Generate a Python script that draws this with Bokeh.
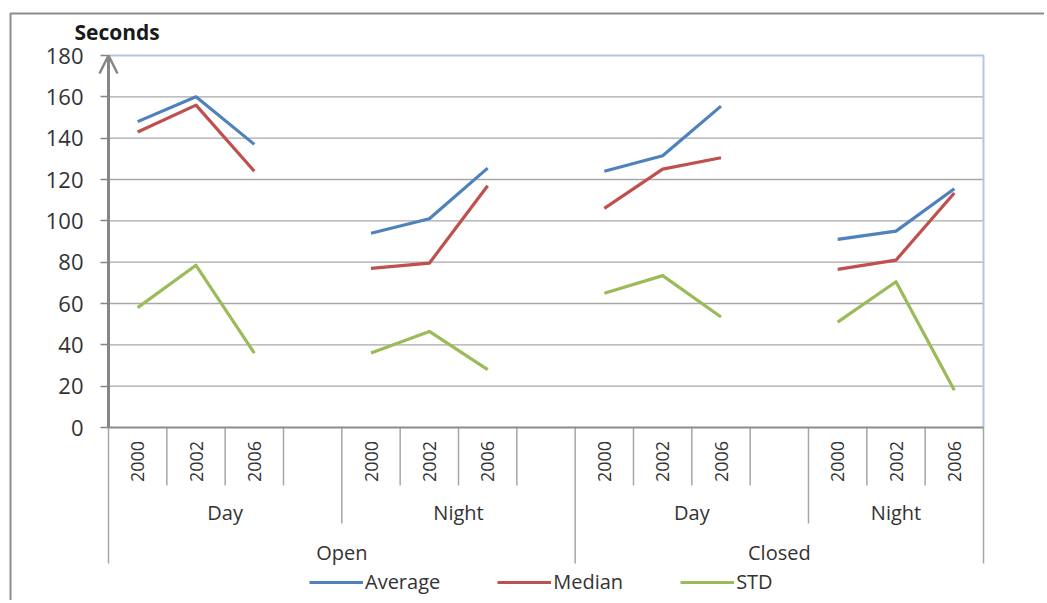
from math import pi
from bokeh.plotting import figure
from bokeh.models import (Range1d, LinearAxis, FixedTicker, Legend, LegendItem,
                          Arrow, OpenHead)
from bokeh.core.properties import value
from bokeh.embed import file_html
from bokeh.resources import INLINE

# ---------------- data ----------------
groups = ["Open", "Closed"]
subgroups = ["Day", "Night"]
years = ["2000", "2002", "2006"]
series_names = ["Average", "Median", "STD"]
# values per (group, subgroup) block, in order: Open-Day, Open-Night, Closed-Day, Closed-Night
average = [148, 160, 137, 94, 101, 125.5, 124, 131.5, 155.5, 91, 95, 115.5]
median = [143, 156, 124, 77, 79.5, 117, 106, 125, 130.5, 76.5, 81, 113.5]
std_dev = [58, 78.5, 36, 36, 46.5, 28, 65, 73.5, 53.5, 51, 70.5, 18]
y_ticks = [0, 20, 40, 60, 80, 100, 120, 140, 160, 180]
y_title = "Seconds"

# ---------------- layout constants ----------------
W, H = 1044, 600
ORIGIN = 0
FONT = "Open Sans"
colors = ["#4F81BD", "#C0504D", "#9BBB59"]

# slots on the category axis (blank slot after each subgroup except the last)
slots = []
for gi, g in enumerate(groups):
    for si, s in enumerate(subgroups):
        for yr in years:
            slots.append((g, s, yr))
        if not (gi == len(groups) - 1 and si == len(subgroups) - 1):
            slots.append((g, s, None))
n_slots = len(slots)

# page-pixel anchors of the plot area
PX_L, PX_R = 108, 983
PY_0, PY_TOP = 427, 55
ux = (PX_R - PX_L) / n_slots
uy = (PY_0 - PY_TOP) / y_ticks[-1]


def dx(px):
    return (px - PX_L) / ux


def dy(py):
    return (PY_0 - py) / uy


p = figure(width=W, height=H, output_backend="svg", toolbar_location=None,
           x_axis_location=None, y_axis_location=None,
           x_range=Range1d(dx(ORIGIN), dx(ORIGIN + W)),
           y_range=Range1d(dy(ORIGIN + H), dy(ORIGIN)),
           min_border=0, min_border_left=0, min_border_right=0,
           min_border_top=0, min_border_bottom=0)
p.outline_line_color = None
p.background_fill_color = "white"
p.border_fill_color = "white"
p.grid.visible = False

ymax = y_ticks[-1]

# outer chart border (top and left)
p.line(x=[dx(10), dx(10), dx(1100)], y=[dy(700), dy(13), dy(13)],
       line_color="#8c8c8c", line_width=2)

# horizontal gridlines
grid_vals = [t for t in y_ticks if 0 < t < ymax]
p.segment(x0=[0] * len(grid_vals), x1=[n_slots] * len(grid_vals),
          y0=grid_vals, y1=grid_vals, line_color="#a8a8a8", line_width=1.3)

# plot-area border (top & right)
p.line(x=[0, n_slots, n_slots], y=[ymax, ymax, 0], line_color="#b3c7e2", line_width=2)

# category separators
sep_x, sep_y1 = [], []
for i in range(n_slots + 1):
    if i == 0 or i == n_slots or slots[i - 1][0] != slots[i][0]:
        level = 2
    elif slots[i - 1][1] != slots[i][1]:
        level = 1
    else:
        level = 0
    sep_x.append(i)
    sep_y1.append([dy(485), dy(523), dy(563)][level])
p.segment(x0=sep_x, x1=sep_x, y0=[0] * len(sep_x), y1=sep_y1,
          line_color="#a6a6a6", line_width=1.5)

# x axis line
p.line(x=[0, n_slots], y=[0, 0], line_color="#8c8c8c", line_width=2)

# year labels (rotated)
yl_x = [i + 0.5 for i, s in enumerate(slots) if s[2] is not None]
yl_t = [s[2] for s in slots if s[2] is not None]
p.text(x=yl_x, y=[dy(461)] * len(yl_x), text=yl_t, angle=pi / 2,
       text_align="center", text_baseline="middle",
       text_font=value(FONT), text_font_size=value("18px"), text_color="#333333")

# subgroup labels
sg_x, sg_t = [], []
for g in groups:
    for s in subgroups:
        idx = [i for i, sl in enumerate(slots) if sl[0] == g and sl[1] == s]
        sg_x.append((idx[0] + idx[-1] + 1) / 2)
        sg_t.append(s)
p.text(x=sg_x, y=[dy(512)] * len(sg_x), text=sg_t,
       text_align="center", text_baseline="middle",
       text_font=value(FONT), text_font_size=value("20px"), text_color="#333333")

# group labels
g_x = []
for g in groups:
    idx = [i for i, sl in enumerate(slots) if sl[0] == g]
    g_x.append((idx[0] + idx[-1] + 1) / 2)
p.text(x=g_x, y=[dy(552)] * len(g_x), text=groups,
       text_align="center", text_baseline="middle",
       text_font=value(FONT), text_font_size=value("20px"), text_color="#333333")

# y title
p.text(x=[dx(74)], y=[dy(31)], text=[y_title], text_align="left", text_baseline="middle",
       text_font=value(FONT), text_font_size=value("21px"), text_font_style="bold",
       text_color="#1a1a1a")

# y axis
yaxis = LinearAxis(fixed_location=0, bounds=(0, ymax), ticker=FixedTicker(ticks=y_ticks))
yaxis.axis_line_color = "#868686"
yaxis.axis_line_width = 3
yaxis.major_tick_out = 8
yaxis.major_tick_in = 0
yaxis.major_tick_line_color = "#868686"
yaxis.major_tick_line_width = 1.5
yaxis.minor_tick_line_color = None
yaxis.major_label_text_font = FONT
yaxis.major_label_text_font_size = "22px"
yaxis.major_label_text_color = "#333333"
yaxis.major_label_standoff = 17
p.add_layout(yaxis, "left")

p.add_layout(Arrow(end=OpenHead(size=18, line_color="#868686", line_width=2.5),
                   x_start=0, y_start=ymax - 5, x_end=0, y_end=ymax,
                   line_color="#868686", line_width=3))

# data series
renderers = []
for vals, col in zip([average, median, std_dev], colors):
    xs, ys = [], []
    b = 0
    for g in groups:
        for s in subgroups:
            idx = [i for i, sl in enumerate(slots) if sl[0] == g and sl[1] == s and sl[2] is not None]
            xs.append([i + 0.5 for i in idx])
            ys.append(vals[b * len(years):(b + 1) * len(years)])
            b += 1
    r = p.multi_line(xs=xs, ys=ys, line_color=col, line_width=3.2, line_join="round")
    renderers.append(r)

legend = Legend(items=[LegendItem(label=n, renderers=[r]) for n, r in zip(series_names, renderers)],
                orientation="horizontal", location=(309, H - 583 - 12),
                glyph_width=54, glyph_height=24, label_height=24, label_standoff=2,
                spacing=57, padding=0, margin=0,
                border_line_color=None, background_fill_alpha=0,
                label_text_font=FONT, label_text_font_size="20px", label_text_color="#333333")
p.add_layout(legend)

open("out.html", "w").write(file_html(p, INLINE))
